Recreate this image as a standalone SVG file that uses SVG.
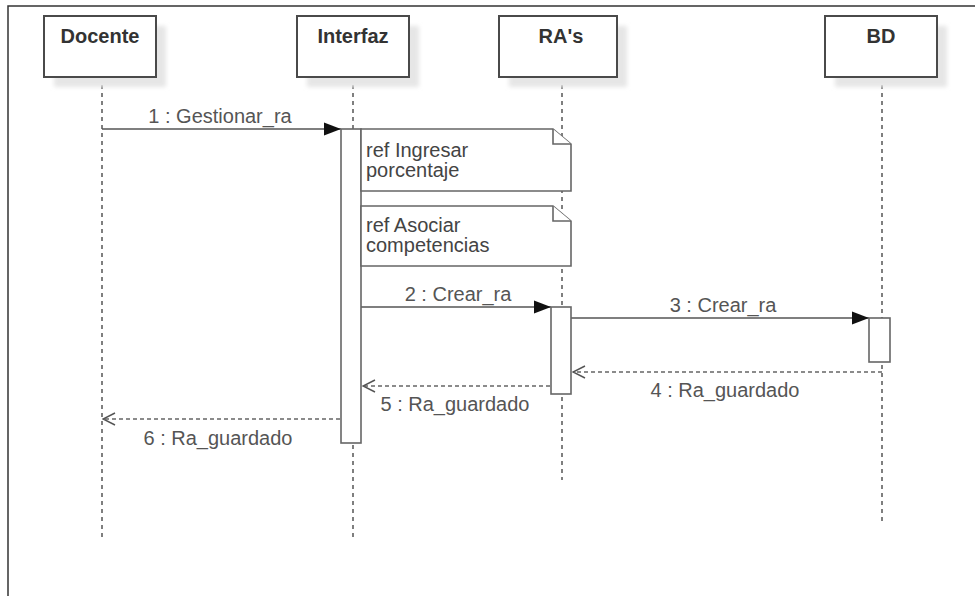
<svg xmlns="http://www.w3.org/2000/svg" width="975" height="596" viewBox="0 0 975 596">
  <style>
    .frame { fill: none; stroke: #333; stroke-width: 1.5; }
    .head { fill: #fff; stroke: #4a4a4a; stroke-width: 2; }
    .shadow { fill: #e6e6e6; }
    .head-text { font-family: "Liberation Sans", Arial, sans-serif; font-size: 20px; font-weight: bold; fill: #333; text-anchor: middle; }
    .life { stroke: #555; stroke-width: 1.5; stroke-dasharray: 4 4; fill: none; }
    .act { fill: #fff; stroke: #666; stroke-width: 1.6; }
    .ref { fill: #fff; stroke: #666; stroke-width: 1.6; }
    .ref-text { font-family: "Liberation Sans", Arial, sans-serif; font-size: 20px; fill: #444; }
    .msg { stroke: #555; stroke-width: 1.6; fill: none; }
    .ret { stroke: #666; stroke-width: 1.6; fill: none; stroke-dasharray: 4 3; }
    .lbl { font-family: "Liberation Sans", Arial, sans-serif; font-size: 20px; fill: #555; text-anchor: middle; }
  </style>
  <defs>
    <filter id="soft" x="-10%" y="-10%" width="120%" height="120%">
      <feGaussianBlur stdDeviation="2"/>
    </filter>
    <marker id="call" markerUnits="userSpaceOnUse" markerWidth="18" markerHeight="14" refX="17" refY="7" orient="auto">
      <path d="M0,0.5 L17,7 L0,13.5 Z" fill="#111"/>
    </marker>
    <marker id="reply" markerUnits="userSpaceOnUse" markerWidth="15" markerHeight="14" refX="14" refY="7" orient="auto">
      <path d="M2,1 L14,7 L2,13" fill="none" stroke="#555" stroke-width="1.5"/>
    </marker>
  </defs>

  <!-- outer frame (top and left edges) -->
  <path class="frame" d="M8,596 V6 H975"/>

  <!-- lifelines -->
  <g id="lifelines">
    <line class="life" x1="102" y1="77" x2="102" y2="537"/>
    <line class="life" x1="353" y1="77" x2="353" y2="537"/>
    <line class="life" x1="562" y1="77" x2="562" y2="480"/>
    <line class="life" x1="882" y1="77" x2="882" y2="523"/>
  </g>

  <!-- participants -->
  <g id="docente">
    <rect class="shadow" x="54" y="26" width="112" height="61" filter="url(#soft)"/>
    <rect class="head" x="44" y="16" width="112" height="61"/>
    <text class="head-text" x="100" y="43">Docente</text>
  </g>
  <g id="interfaz">
    <rect class="shadow" x="307" y="26" width="112" height="61" filter="url(#soft)"/>
    <rect class="head" x="297" y="16" width="112" height="61"/>
    <text class="head-text" x="353" y="43">Interfaz</text>
  </g>
  <g id="ras">
    <rect class="shadow" x="509" y="26" width="118" height="61" filter="url(#soft)"/>
    <rect class="head" x="499" y="16" width="118" height="61"/>
    <text class="head-text" x="561" y="43">RA's</text>
  </g>
  <g id="bd">
    <rect class="shadow" x="835" y="26" width="112" height="61" filter="url(#soft)"/>
    <rect class="head" x="825" y="16" width="112" height="61"/>
    <text class="head-text" x="881" y="43">BD</text>
  </g>

  <!-- messages -->
  <g id="connectors">
    <line class="msg" x1="102" y1="129" x2="341" y2="129" marker-end="url(#call)"/>
    <line class="msg" x1="361" y1="307" x2="551" y2="307" marker-end="url(#call)"/>
    <line class="msg" x1="571" y1="318" x2="869" y2="318" marker-end="url(#call)"/>
    <line class="ret" x1="882" y1="372" x2="573" y2="372" marker-end="url(#reply)"/>
    <line class="ret" x1="550" y1="386" x2="363" y2="386" marker-end="url(#reply)"/>
    <line class="ret" x1="340" y1="419" x2="103" y2="419" marker-end="url(#reply)"/>
  </g>

  <!-- activation bars -->
  <g id="activation-interfaz">
    <rect class="act" x="341" y="129" width="20" height="314"/>
  </g>
  <g id="activation-ras">
    <rect class="act" x="551" y="307" width="20" height="87"/>
  </g>
  <g id="activation-bd">
    <rect class="act" x="869" y="318" width="21" height="44"/>
  </g>

  <!-- interaction references -->
  <g id="ref-ingresar">
    <path class="ref" d="M361,129 H553 L571,144 V191 H361 Z"/>
    <path class="ref" d="M553,129 V144 H571" fill="none"/>
    <text class="ref-text" x="366" y="157">ref Ingresar</text>
    <text class="ref-text" x="366" y="177">porcentaje</text>
  </g>
  <g id="ref-asociar">
    <path class="ref" d="M361,206 H553 L571,221 V266 H361 Z"/>
    <path class="ref" d="M553,206 V221 H571" fill="none"/>
    <text class="ref-text" x="366" y="232">ref Asociar</text>
    <text class="ref-text" x="366" y="252">competencias</text>
  </g>

  <!-- message labels -->
  <g id="labels">
    <text class="lbl" x="220" y="123">1 : Gestionar_ra</text>
    <text class="lbl" x="458" y="301">2 : Crear_ra</text>
    <text class="lbl" x="723" y="312">3 : Crear_ra</text>
    <text class="lbl" x="725" y="397">4 : Ra_guardado</text>
    <text class="lbl" x="455" y="411">5 : Ra_guardado</text>
    <text class="lbl" x="218" y="445">6 : Ra_guardado</text>
  </g>
</svg>
